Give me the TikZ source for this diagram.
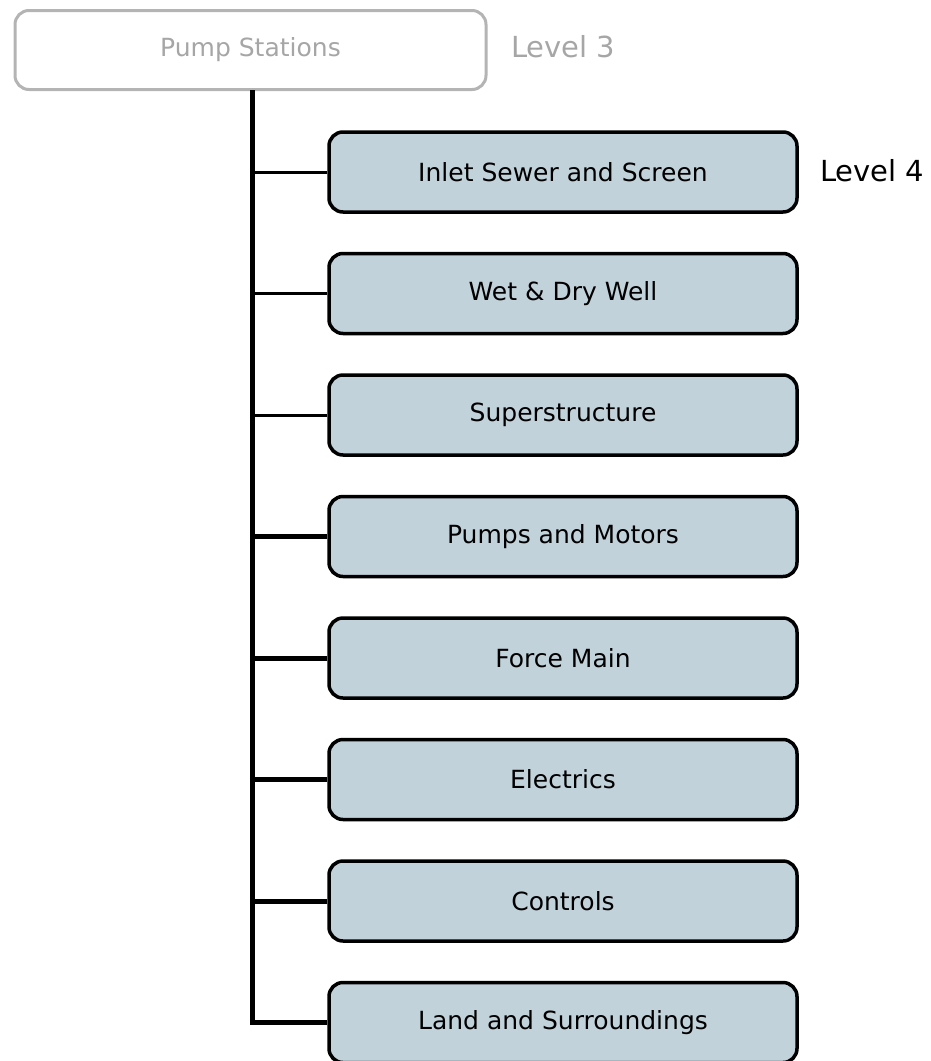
\documentclass[tikz,border=0pt]{standalone}
\usepackage{fontspec}
\setmainfont{DejaVu Sans}
\definecolor{boxfill}{HTML}{C1D2DB}
\definecolor{topgrey}{HTML}{B4B4B4}
\definecolor{toptext}{HTML}{A6A6A6}
\begin{document}
\begin{tikzpicture}[x=1pt,y=-1pt,
  child/.style={draw=black,line width=3.5pt,fill=boxfill,rounded corners=14pt,
    minimum width=468pt,minimum height=80pt,inner sep=0pt,
    font=\fontsize{25}{30}\selectfont},
  topbox/.style={draw=topgrey,line width=3pt,fill=white,rounded corners=14pt,
    minimum width=471pt,minimum height=79pt,inner sep=0pt,text=toptext,
    font=\fontsize{25}{30}\selectfont},
  levellabel/.style={anchor=west,inner sep=0pt,font=\fontsize{29}{34}\selectfont},
  trunk/.style={line width=5pt},
  thinlink/.style={line width=3pt},
  thicklink/.style={line width=5pt}]
\useasboundingbox (0,0) rectangle (930,1061);
\clip (0,0) rectangle (930,1061);
\node[topbox] (top) at (250.5,50) {Pump Stations};
\node[levellabel,text=toptext] (l3) at (511,47) {Level 3};
\node[child] (c1) at (563,172) {Inlet Sewer and Screen};
\node[child] (c2) at (563,293.5) {Wet \& Dry Well};
\node[child] (c3) at (563,415) {Superstructure};
\node[child] (c4) at (563,536.5) {Pumps and Motors};
\node[child] (c5) at (563,658) {Force Main};
\node[child] (c6) at (563,779.5) {Electrics};
\node[child] (c7) at (563,901) {Controls};
\node[child] (c8) at (563,1022.5) {Land and Surroundings};
\node[levellabel] (l4) at (820,171) {Level 4};
\coordinate (t0) at (252,90);
\coordinate (tb) at (252,1022.5);
\draw[trunk] (t0) -- (tb) -- (c8.west);
\draw[thinlink] (c1.west) -- (c1.west -| t0);
\draw[thinlink] (c2.west) -- (c2.west -| t0);
\draw[thinlink] (c3.west) -- (c3.west -| t0);
\draw[thicklink] (c4.west) -- (c4.west -| t0);
\draw[thicklink] (c5.west) -- (c5.west -| t0);
\draw[thicklink] (c6.west) -- (c6.west -| t0);
\draw[thicklink] (c7.west) -- (c7.west -| t0);
\end{tikzpicture}
\end{document}
